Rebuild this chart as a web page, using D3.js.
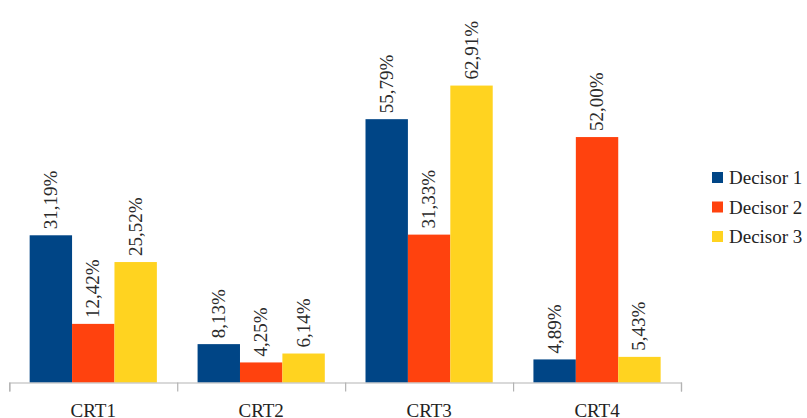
<html>
<head>
<script src="https://d3js.org/d3.v7.min.js"></script>
<style>
html body svg text, html body svg g text { font-family: "Liberation Serif", "Times New Roman", serif !important; }
</style>
</head>
<body style="margin:0">
<script>
var categories = ["CRT1", "CRT2", "CRT3", "CRT4"];
var series = ["Decisor 1", "Decisor 2", "Decisor 3"];
var decisor1 = [31.19, 8.13, 55.79, 4.89];
var decisor2 = [12.42, 4.25, 31.33, 52.00];
var decisor3 = [25.52, 6.14, 62.91, 5.43];
var colors = ["#004586", "#ff420e", "#ffd320"];

var w = 807, h = 418;
var baseY = 382.5;
var fontName = "Liberation Serif";

var dataset = [];
for (var i = 0; i < categories.length; i++) {
	var vals = [decisor1[i], decisor2[i], decisor3[i]];
	for (var j = 0; j < series.length; j++) {
		dataset.push({cat: categories[i], s: series[j], v: vals[j], k: j});
	}
}

var svg = d3.select("body").append("svg")
	.attr("width", w)
	.attr("height", h)
	.attr("font-family", fontName);

// x scales
var x = d3.scaleBand().domain(categories).range([9.3, 681]).padding(0);
var xs = d3.scaleBand().domain(series).range([0, x.bandwidth()]).paddingInner(0).paddingOuter(0.48);

// y scale, ~4.72px per percent
var y = d3.scaleLinear().domain([0, 70]).range([baseY, baseY - 70 * 4.72]);

var fmt = function(v) { return v.toFixed(2).replace(".", ",") + "%"; };

svg.selectAll("rect.bar")
	.data(dataset)
	.enter()
	.append("rect")
	.attr("class", "bar")
	.attr("x", function(d) { return x(d.cat) + xs(d.s); })
	.attr("y", function(d) { return y(d.v); })
	.attr("width", xs.bandwidth())
	.attr("height", function(d) { return baseY - y(d.v); })
	.attr("fill", function(d) { return colors[d.k]; });

// value labels, rotated
svg.selectAll("text.val")
	.data(dataset)
	.enter()
	.append("text")
	.attr("class", "val")
	.attr("transform", function(d) {
		var cx = x(d.cat) + xs(d.s) + xs.bandwidth() / 2;
		return "translate(" + (cx + 6) + "," + (y(d.v) - 6) + ") rotate(-90)";
	})
	.attr("font-family", fontName)
	.style("font-family", fontName, "important")
	.attr("font-size", 19)
	.attr("fill", "#2a2a2a")
	.text(function(d) { return fmt(d.v); });

// axis line with ticks at group boundaries
var xt = d3.scaleLinear().domain([0, categories.length]).range(x.range());
var tickAxis = d3.axisBottom(xt).ticks(categories.length).tickFormat("").tickSize(9).tickSizeOuter(9);
var gAx = svg.append("g")
	.attr("transform", "translate(0," + baseY + ")")
	.call(tickAxis);
gAx.selectAll("path, line").attr("stroke", "#b3b3b3").attr("stroke-width", 1.2);

// category labels
svg.selectAll("text.cat")
	.data(categories)
	.enter()
	.append("text")
	.attr("class", "cat")
	.attr("x", function(d) { return x(d) + x.bandwidth() / 2; })
	.attr("y", baseY + 34)
	.attr("text-anchor", "middle")
	.attr("font-family", fontName)
	.style("font-family", fontName, "important")
	.attr("font-size", 19)
	.attr("fill", "#222")
	.text(function(d) { return d; });

// legend
series.forEach(function(s, i) {
	var ly = 178 + i * 29.5;
	svg.append("rect")
		.attr("x", 712).attr("y", ly - 6)
		.attr("width", 11).attr("height", 11)
		.attr("fill", colors[i]);
	svg.append("text")
		.attr("x", 729).attr("y", ly + 6)
		.attr("font-family", fontName)
		.style("font-family", fontName, "important")
		.attr("font-size", 19)
		.attr("fill", "#222")
		.text(s);
});
</script>
</body>
</html>
